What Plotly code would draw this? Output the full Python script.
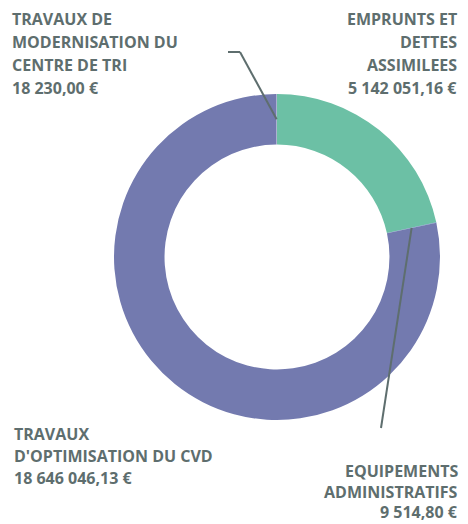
import math
import plotly.graph_objects as go

categories = ["EMPRUNTS ET DETTES ASSIMILEES", "EQUIPEMENTS ADMINISTRATIFS",
              "TRAVAUX D'OPTIMISATION DU CVD", "TRAVAUX DE MODERNISATION DU CENTRE DE TRI"]
values = [5142051.16, 9514.80, 18646046.13, 18230.00]
value_labels = ["5 142 051,16 €", "9 514,80 €", "18 646 046,13 €", "18 230,00 €"]
colors = ["#6CC0A5", "#5B8DB8", "#737AAF", "#9CA3C8"]

W, H = 468, 524
cx, cy, R = 277, 257, 163
HOLE = 0.69
TXT = "#5E6E6E"

fig = go.Figure(go.Pie(
    labels=categories, values=values, sort=False, direction="clockwise", rotation=0,
    hole=HOLE, marker=dict(colors=colors, line=dict(color="white", width=0)),
    textinfo="none", hoverinfo="label+value", showlegend=False,
    domain=dict(x=[(cx - R) / W, (cx + R) / W], y=[(H - cy - R) / H, (H - cy + R) / H]),
))

# label blocks: (lines, anchor x px, first-line centre y px, line spacing px, xanchor)
label_lines = [
    ["EMPRUNTS ET", "DETTES", "ASSIMILEES", value_labels[0]],
    ["EQUIPEMENTS", "ADMINISTRATIFS", value_labels[1]],
    ["TRAVAUX", "D'OPTIMISATION DU CVD", value_labels[2]],
    ["TRAVAUX DE", "MODERNISATION DU", "CENTRE DE TRI", value_labels[3]],
]
label_pos = [(459, 19, 23, "right"), (460, 471, 20.5, "right"),
             (12, 434, 22, "left"), (10, 19, 23, "left")]

annotations = []
for lines, (x, y0, sp, xa) in zip(label_lines, label_pos):
    for i, t in enumerate(lines):
        annotations.append(dict(
            text="<b>" + t + "</b>", x=x / W, y=1 - (y0 + i * sp) / H,
            xref="paper", yref="paper", xanchor=xa, yanchor="middle", showarrow=False,
            font=dict(family="Open Sans", size=16, color=TXT), align=xa))

# leader lines from slice midpoints (middle of ring)
total = sum(values)
rmid = R * (1 + HOLE) / 2
cum = 0
mids = []
for v in values:
    mids.append((cum + v / 2) / total * 2 * math.pi)
    cum += v

shapes = []
def seg(x0, y0, x1, y1):
    shapes.append(dict(type="line", xref="paper", yref="paper",
                       x0=x0 / W, y0=1 - y0 / H, x1=x1 / W, y1=1 - y1 / H,
                       line=dict(color=TXT, width=2)))

# EQUIPEMENTS
a = mids[1]
px, py = cx + rmid * math.sin(a), cy - rmid * math.cos(a)
seg(px, py, 381, 428)
# MODERNISATION
a = mids[3]
px, py = cx + rmid * math.sin(a), cy - rmid * math.cos(a)
seg(px, py, 240, 52)
seg(240, 52, 228, 52)

fig.update_layout(width=W, height=H, margin=dict(l=0, r=0, t=0, b=0),
                  paper_bgcolor="white", plot_bgcolor="white",
                  annotations=annotations, shapes=shapes)
fig.write_html("out.html", config={"displayModeBar": False},
               post_script="document.body.style.margin='0';document.body.style.overflow='hidden';")
